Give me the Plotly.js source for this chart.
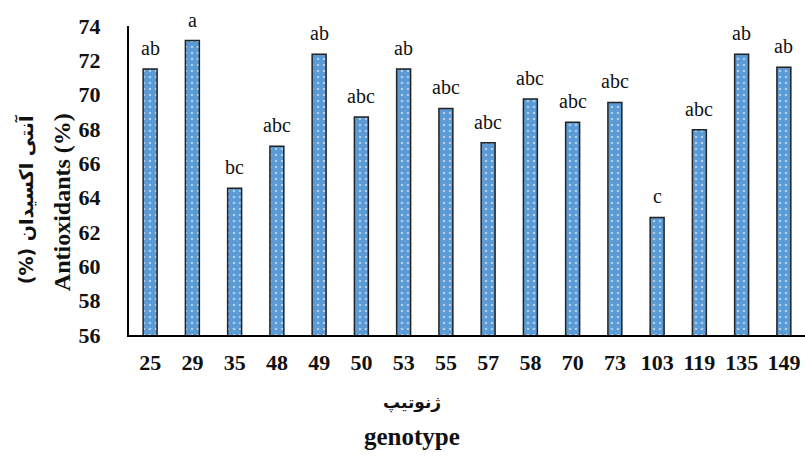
<!DOCTYPE html>
<html><head><meta charset="utf-8">
<script src="https://cdn.plot.ly/plotly-3.0.1.min.js"></script>
<style>html,body{margin:0;padding:0;background:#fff}#c{width:805px;height:457px}</style>
</head><body><div id="c"></div>
<script>
var genotypes = ["25","29","35","48","49","50","53","55","57","58","70","73","103","119","135","149"];
var antioxidants = [71.5, 73.15, 64.55, 67.0, 72.35, 68.7, 71.5, 69.2, 67.2, 69.75, 68.4, 69.55, 62.85, 67.95, 72.35, 71.6];
var letters = ["ab","a","bc","abc","ab","abc","ab","abc","abc","abc","abc","abc","c","abc","ab","ab"];
var yTicks = [56,58,60,62,64,66,68,70,72,74];

var serif = "Liberation Serif";
var arab = "DejaVu Sans";
var ann = genotypes.map(function(g,i){
  return {x:i, y:antioxidants[i], xref:'x', yref:'y', text:letters[i], showarrow:false,
    yanchor:'bottom', yshift:8, font:{family:serif, size:20, color:'#111'}};
});
ann.push({xref:'paper', yref:'paper', x:0.419, y:-0.22, xanchor:'center', yanchor:'middle', text:'<b>ژنوتیپ</b>', showarrow:false,
  font:{family:arab, size:17, color:'#111'}});
ann.push({xref:'paper', yref:'paper', x:0.419, y:-0.33, xanchor:'center', yanchor:'middle', text:'<b>genotype</b>', showarrow:false,
  font:{family:serif, size:25, color:'#111'}});
ann.push({xref:'paper', yref:'paper', x:-0.099, y:0.43, xanchor:'center', yanchor:'middle', text:'<b>Antioxidants (%)</b>', showarrow:false, textangle:-90,
  font:{family:serif, size:24, color:'#111'}});
ann.push({xref:'paper', yref:'paper', x:-0.152, y:0.437, xanchor:'center', yanchor:'middle', text:'<b>آنتی اکسیدان (%)\u200F</b>', showarrow:false, textangle:-90,
  font:{family:arab, size:19, color:'#111'}});

var trace = {
  type:'bar', x:genotypes, y:antioxidants, width:0.33,
  marker:{color:'#5B9BD5', line:{color:'#222222', width:1.5},
    pattern:{shape:'.', fgcolor:'#ffffff', size:6, solidity:0.15, fillmode:'overlay'}},
  hoverinfo:'none'
};
var layout = {
  width:805, height:457, margin:{l:129, r:0, t:26, b:122},
  paper_bgcolor:'#fff', plot_bgcolor:'#fff', showlegend:false,
  font:{family:serif},
  xaxis:{type:'category', showline:true, linecolor:'#000', linewidth:2, ticks:'', showgrid:false,
    tickfont:{family:serif, size:22, color:'#111', weight:'bold'}, ticklabelstandoff:7},
  yaxis:{range:[56,74], tickvals:yTicks, showline:true, linecolor:'#000', linewidth:2, ticks:'', showgrid:false, zeroline:false,
    tickfont:{family:serif, size:22, color:'#111', weight:'bold'}, ticklabelstandoff:22},
  annotations:ann
};
Plotly.newPlot('c',[trace],layout,{displayModeBar:false, staticPlot:true});
</script></body></html>
